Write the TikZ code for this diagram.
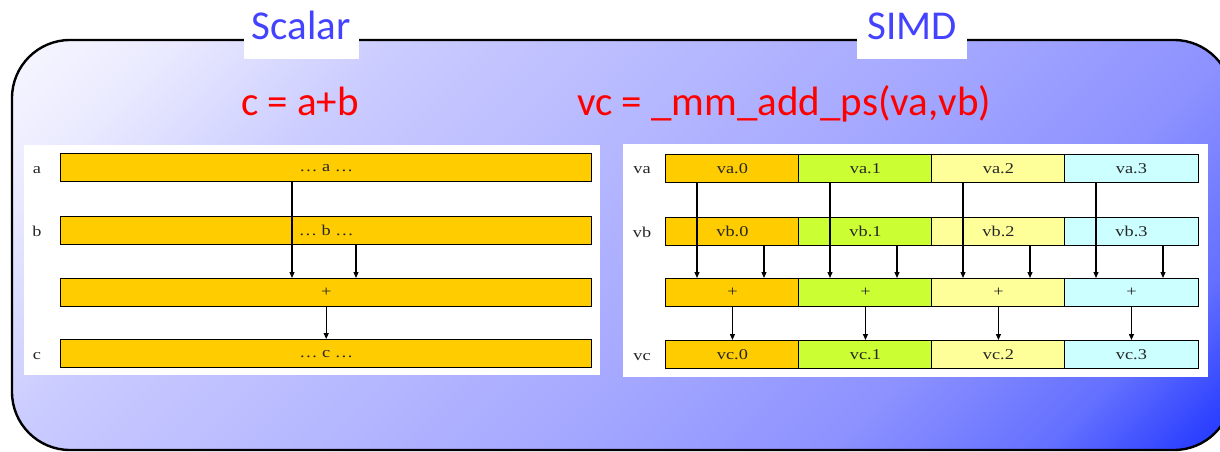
\documentclass[tikz,border=0pt]{standalone}
\usepackage{fontspec}
\setmainfont{Liberation Serif}
\newfontfamily\titlefont{Carlito}
\newfontfamily\cellfont[FakeStretch=1.22]{Liberation Serif}
\usetikzlibrary{arrows.meta}
\definecolor{cOr}{HTML}{FFCC00}
\definecolor{cGr}{HTML}{CCFF33}
\definecolor{cYe}{HTML}{FFFF99}
\definecolor{cCy}{HTML}{CCFFFF}
\definecolor{ttlblue}{HTML}{4343FF}
\definecolor{fred}{HTML}{FF0000}
\definecolor{gA}{RGB}{252,252,255}
\definecolor{gB}{RGB}{235,235,255}
\definecolor{gC}{RGB}{202,203,255}
\definecolor{gD}{RGB}{162,165,255}
\definecolor{gE}{RGB}{140,145,255}
\definecolor{gF}{RGB}{100,112,255}
\definecolor{gG}{RGB}{45,65,255}
\definecolor{gH}{RGB}{20,45,255}
\pgfdeclarehorizontalshading{bgshade}{100bp}{color(0bp)=(gA); color(25bp)=(gA);
  color(31bp)=(gB); color(38bp)=(gC); color(55bp)=(gD); color(62bp)=(gE);
  color(68bp)=(gF); color(72bp)=(gG); color(75bp)=(gH); color(100bp)=(gH)}
\begin{document}
\begin{tikzpicture}[x=1pt,y=-1pt,
  cell/.style={draw=black,line width=1.4pt,anchor=north west,inner sep=0pt,
    minimum height=28pt,text=black!85,font=\cellfont\fontsize{15}{17}\selectfont},
  rowlbl/.style={inner sep=0pt,text=black!85,font=\cellfont\fontsize{15}{17}\selectfont},
  arr/.style={-{Triangle[length=6pt,width=5pt]},line width=1.2pt},
  ttl/.style={fill=white,inner xsep=0pt,inner ysep=0pt,anchor=base,
    text height=40pt,text depth=19pt,text=ttlblue,
    font=\titlefont\fontsize{41}{44}\selectfont},
  formula/.style={inner sep=0pt,anchor=base,text=fred,
    font=\titlefont\fontsize{41}{44}\selectfont},
  panel/.style={fill=white},
]
\useasboundingbox (0,0) rectangle (1220,452);
% background gradient box
\begin{scope}
  \clip[rounded corners=58pt] (12,40) rectangle (1232,450);
  \shade[shading=bgshade,shading angle=-45]
    (1,-375) rectangle (1241,865);
\end{scope}
\draw[line width=2.4pt,rounded corners=58pt] (12,40) rectangle (1232,450);
% titles
\node[ttl,minimum width=115pt] (tscalar) at (301,40) {Scalar};
\node[ttl,minimum width=110pt] (tsimd) at (912,40) {SIMD};
\node[formula] (fscalar) at (300,115) {c = a+b};
\node[formula] (fsimd) at (784,115) {vc = \_mm\_add\_ps(va,vb)};
% panels
\fill[panel] (24,145) rectangle (600,375);
\fill[panel] (623,144) rectangle (1208,377);
% scalar side
\node[rowlbl] (la) at (37,170) {a};
\node[rowlbl] (lb) at (37,231) {b};
\node[rowlbl] (lc) at (37,356) {c};
\node[cell,fill=cOr,minimum width=531pt] (A) at (60,153) {… a …};
\node[cell,fill=cOr,minimum width=531pt] (B) at (60,216) {… b …};
\node[cell,fill=cOr,minimum width=531pt] (P) at (60,278) {+};
\node[cell,fill=cOr,minimum width=531pt] (C) at (60,339) {… c …};
\draw[arr] ([xshift=232pt]A.south west) -- ([xshift=232pt]P.north west);
\draw[arr] ([xshift=296pt]B.south west) -- ([xshift=296pt]P.north west);
\draw[arr] (P.south) -- (C.north);
% SIMD side
\node[rowlbl] (lva) at (642,170) {va};
\node[rowlbl] (lvb) at (642,232) {vb};
\node[rowlbl] (lvc) at (642,357) {vc};
\foreach \i/\x/\c in {0/665/cOr,1/798/cGr,2/931/cYe,3/1064/cCy}{
  \node[cell,fill=\c,minimum width=133.5pt] (va\i) at (\x,154) {va.\i};
  \node[cell,fill=\c,minimum width=133.5pt] (vb\i) at (\x,217) {vb.\i};
  \node[cell,fill=\c,minimum width=133.5pt] (vp\i) at (\x,278) {+};
  \node[cell,fill=\c,minimum width=133.5pt] (vc\i) at (\x,340) {vc.\i};
}
\foreach \i in {0,1,2,3}{
  \draw[arr] ([xshift=32pt]va\i.south west) -- ([xshift=32pt]vp\i.north west);
  \draw[arr] ([xshift=99pt]vb\i.south west) -- ([xshift=99pt]vp\i.north west);
  \draw[arr] (vp\i.south) -- (vc\i.north);
}
\end{tikzpicture}
\end{document}
